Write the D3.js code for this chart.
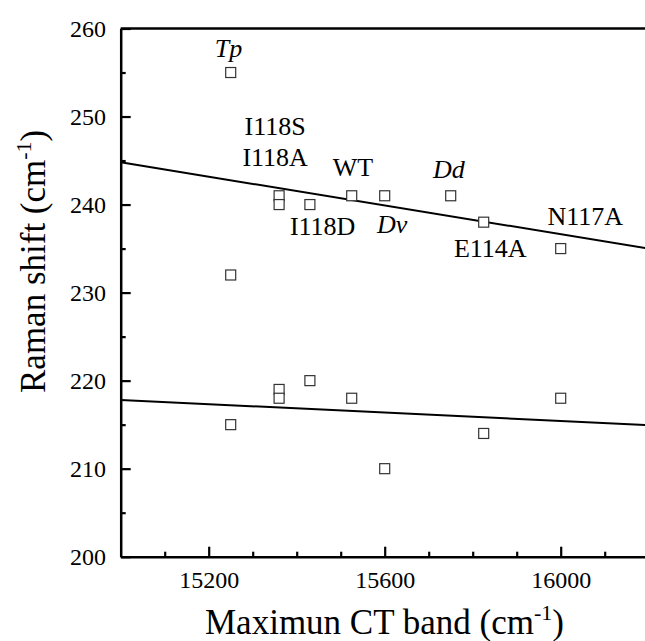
<!DOCTYPE html>
<html>
<head>
    <meta charset="utf-8">
    <style>
        body { margin: 0; background: #fff; }
        svg { display: block; }
        svg text { font-family: "Liberation Serif", "Times New Roman", serif; }
    </style>
</head>
<body>
<svg width="645" height="641"></svg>
<script src="https://d3js.org/d3.v7.min.js"></script>
<script>
    //------------------------ DATA ------------------------//
    // upper band (~240 cm-1)
    let upperX = [15250, 15360, 15360, 15430, 15525, 15600, 15750, 15825, 16000, 15250];
    let upperY = [255, 241, 240, 240, 241, 241, 241, 238, 235, 232];
    // lower band (~215 cm-1)
    let lowerX = [15360, 15360, 15430, 15525, 16000, 15250, 15825, 15600];
    let lowerY = [219, 218, 220, 218, 218, 215, 214, 210];

    // fitted lines, read at the two ends of the frame
    let fitUpperX = [15000, 16200];
    let fitUpperY = [244.8, 235.0];
    let fitLowerX = [15000, 16200];
    let fitLowerY = [217.8, 214.95];

    // point labels (position = text baseline centre, in data units)
    let labelText = ["Tp", "I118S", "I118A", "WT", "I118D", "Dv", "Dd", "E114A", "N117A"];
    let labelItalic = [true, false, false, false, false, true, true, false, false];
    let labelX = [15245, 15351, 15351, 15528, 15459, 15617, 15746, 15840, 16056];
    let labelY = [256.8, 247.9, 244.4, 243.3, 236.5, 236.8, 243.0, 234.1, 237.7];

    let xTicks = [15200, 15600, 16000];
    let xMinor = [15100, 15300, 15400, 15500, 15700, 15800, 15900, 16100];
    let yTicks = [200, 210, 220, 230, 240, 250, 260];
    let yMinor = [205, 215, 225, 235, 245, 255];

    //------------------------ SETUP ------------------------//
    let svg = d3.select("svg");
    let serif = "Liberation Serif, Times New Roman, serif";
    let mLeft = 120.7, mRight = 648.7, mTop = 28.5, mBottom = 556.7;

    let x = d3.scaleLinear().domain([15000, 16200]).range([mLeft, mRight]);
    let y = d3.scaleLinear().domain([200, 260]).range([mBottom, mTop]);

    //------------------------ AXES ------------------------//
    svg.append("g")
        .attr("transform", "translate(0," + mBottom + ")")
        .call(d3.axisBottom(x).tickValues(xTicks).tickFormat(d3.format("d"))
            .tickSizeInner(-10).tickSizeOuter(0).tickPadding(14));
    svg.append("g")
        .attr("transform", "translate(0," + mBottom + ")")
        .call(d3.axisBottom(x).tickValues(xMinor).tickFormat("")
            .tickSizeInner(-5).tickSizeOuter(0))
        .select(".domain").remove();

    svg.append("g")
        .attr("transform", "translate(" + mLeft + ",0)")
        .call(d3.axisLeft(y).tickValues(yTicks).tickFormat(d3.format("d"))
            .tickSizeInner(-10).tickSizeOuter(0).tickPadding(14.7));
    svg.append("g")
        .attr("transform", "translate(" + mLeft + ",0)")
        .call(d3.axisLeft(y).tickValues(yMinor).tickFormat("")
            .tickSizeInner(-5).tickSizeOuter(0))
        .select(".domain").remove();

    svg.selectAll("g").attr("font-family", serif).attr("font-size", 24);
    svg.selectAll(".domain").attr("stroke", "#000").attr("stroke-width", 2.5);
    svg.selectAll(".tick line").attr("stroke", "#000").attr("stroke-width", 2.2);
    svg.selectAll(".tick text")
        .attr("fill", "#000")
        .attr("font-family", serif)
        .style("font-size", "24px");

    // top frame line
    svg.append("line")
        .attr("x1", mLeft).attr("x2", mRight)
        .attr("y1", mTop).attr("y2", mTop)
        .attr("stroke", "#000").attr("stroke-width", 2.5);
    // right frame line (falls just outside the window)
    svg.append("line")
        .attr("x1", mRight).attr("x2", mRight)
        .attr("y1", mTop).attr("y2", mBottom)
        .attr("stroke", "#000").attr("stroke-width", 2.5);

    //------------------------ FIT LINES ------------------------//
    let line = d3.line().x(d => x(d[0])).y(d => y(d[1]));
    svg.append("path")
        .attr("d", line(d3.zip(fitUpperX, fitUpperY)))
        .attr("fill", "none").attr("stroke", "#000").attr("stroke-width", 2);
    svg.append("path")
        .attr("d", line(d3.zip(fitLowerX, fitLowerY)))
        .attr("fill", "none").attr("stroke", "#000").attr("stroke-width", 2);

    //------------------------ POINTS ------------------------//
    let pts = d3.zip(upperX, upperY).concat(d3.zip(lowerX, lowerY));
    let size = 10;
    svg.append("g")
        .selectAll("rect")
        .data(pts)
        .join("rect")
        .attr("x", d => x(d[0]) - size / 2)
        .attr("y", d => y(d[1]) - size / 2)
        .attr("width", size)
        .attr("height", size)
        .attr("fill", "#fff")
        .attr("stroke", "#333")
        .attr("stroke-width", 1.2);

    //------------------------ LABELS ------------------------//
    svg.append("g")
        .selectAll("text")
        .data(labelText)
        .join("text")
        .attr("x", (d, i) => x(labelX[i]))
        .attr("y", (d, i) => y(labelY[i]))
        .attr("text-anchor", "middle")
        .attr("font-family", serif)
        .style("font-size", "26px")
        .style("font-style", (d, i) => labelItalic[i] ? "italic" : "normal")
        .text(d => d);

    //------------------------ AXIS TITLES ------------------------//
    let xt = svg.append("text")
        .attr("x", 205)
        .attr("y", 634)
        .attr("font-family", serif)
        .style("font-size", "35px");
    xt.append("tspan").text("Maximun CT band (cm");
    xt.append("tspan").attr("dy", -14).style("font-size", "22px").text("-1");
    xt.append("tspan").attr("dy", 14).text(")");

    let yt = svg.append("text")
        .attr("transform", "translate(45,393) rotate(-90)")
        .attr("x", 0)
        .attr("y", 0)
        .attr("font-family", serif)
        .style("font-size", "35px");
    yt.append("tspan").text("Raman shift (cm");
    yt.append("tspan").attr("dy", -14).style("font-size", "22px").text("-1");
    yt.append("tspan").attr("dy", 14).text(")");
</script>
</body>
</html>
